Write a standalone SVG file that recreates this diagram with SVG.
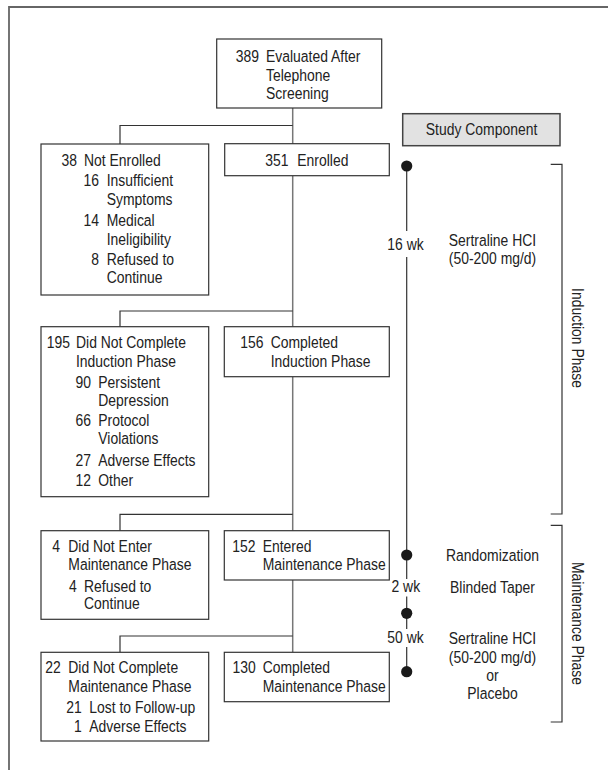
<svg xmlns="http://www.w3.org/2000/svg" width="608" height="770" viewBox="0 0 608 770">
<style>
.t{font-family:"Liberation Sans",Arial,sans-serif;font-size:17px;fill:#222;transform-box:fill-box;transform-origin:0% 0%;transform:scaleX(0.82)}
.e{text-anchor:end;transform-origin:100% 0%}
.m{text-anchor:middle;transform-origin:50% 0%}
.box{fill:#fff;stroke:#333;stroke-width:1.2}
.comp{fill:#e2e2e2;stroke:#444;stroke-width:1.5}
.ln{fill:none;stroke:#333;stroke-width:1.2}
.trunk{fill:none;stroke:#777;stroke-width:1.5}
.dot{fill:#1a1a1a}
</style>
<rect width="608" height="770" fill="#fff"/>
<path d="M9,770 V7 H608" fill="none" stroke="#666" stroke-width="1.8"/>

<g id="connectors">
  <path class="trunk" d="M292.7,108 V144 M292.7,176 V326.7 M292.7,376.7 V530.7 M292.7,580 V652.3"/>
  <path class="ln" d="M292.7,125.5 H120 V144 M292.7,311 H120 V326.7 M292.7,514.3 H120 V530.7 M292.7,636 H120 V652.3"/>
</g>

<g id="n389">
  <rect class="box" x="216.7" y="39" width="165" height="69"/>
  <text class="t e" x="259" y="62">389</text>
  <text class="t" x="266" y="62">Evaluated After</text>
  <text class="t" x="266" y="81">Telephone</text>
  <text class="t" x="266" y="99.5">Screening</text>
</g>

<g id="n38">
  <rect class="box" x="41" y="144" width="167.7" height="151"/>
  <text class="t e" x="77" y="165.7">38</text>
  <text class="t" x="84" y="165.7">Not Enrolled</text>
  <text class="t e" x="99" y="186.5">16</text>
  <text class="t" x="106.7" y="186.5">Insufficient</text>
  <text class="t" x="106.7" y="205.5">Symptoms</text>
  <text class="t e" x="99" y="226">14</text>
  <text class="t" x="106.7" y="226">Medical</text>
  <text class="t" x="106.7" y="245">Ineligibility</text>
  <text class="t e" x="99" y="265">8</text>
  <text class="t" x="106.7" y="265">Refused to</text>
  <text class="t" x="106.7" y="283.5">Continue</text>
</g>

<g id="n351">
  <rect class="box" x="224.7" y="143.7" width="164.6" height="32"/>
  <text class="t e" x="288.5" y="165.7">351</text>
  <text class="t" x="297.3" y="165.7">Enrolled</text>
</g>

<g id="n195">
  <rect class="box" x="41" y="326.7" width="167.7" height="170"/>
  <text class="t e" x="70" y="348.3">195</text>
  <text class="t" x="76" y="348.3">Did Not Complete</text>
  <text class="t" x="76" y="366.7">Induction Phase</text>
  <text class="t e" x="91" y="387.7">90</text>
  <text class="t" x="98.3" y="387.7">Persistent</text>
  <text class="t" x="98.3" y="406">Depression</text>
  <text class="t e" x="91" y="426">66</text>
  <text class="t" x="98.3" y="426">Protocol</text>
  <text class="t" x="98.3" y="444.3">Violations</text>
  <text class="t e" x="91" y="465.7">27</text>
  <text class="t" x="98.3" y="465.7">Adverse Effects</text>
  <text class="t e" x="91" y="486">12</text>
  <text class="t" x="98.3" y="486">Other</text>
</g>

<g id="n156">
  <rect class="box" x="224.3" y="326.7" width="165" height="50"/>
  <text class="t e" x="263.5" y="348.3">156</text>
  <text class="t" x="270.7" y="348.3">Completed</text>
  <text class="t" x="270.7" y="366.7">Induction Phase</text>
</g>

<g id="n4">
  <rect class="box" x="41" y="530.7" width="167.7" height="88.6"/>
  <text class="t e" x="60" y="552.3">4</text>
  <text class="t" x="68.3" y="552.3">Did Not Enter</text>
  <text class="t" x="68.3" y="570">Maintenance Phase</text>
  <text class="t e" x="76.7" y="591.7">4</text>
  <text class="t" x="84" y="591.7">Refused to</text>
  <text class="t" x="84" y="609.3">Continue</text>
</g>

<g id="n152">
  <rect class="box" x="224.3" y="530.7" width="165" height="49.3"/>
  <text class="t e" x="255.6" y="552.3">152</text>
  <text class="t" x="262.7" y="552.3">Entered</text>
  <text class="t" x="262.7" y="570">Maintenance Phase</text>
</g>

<g id="n22">
  <rect class="box" x="41" y="652.3" width="167.7" height="88.7"/>
  <text class="t e" x="60.7" y="673.3">22</text>
  <text class="t" x="68.3" y="673.3">Did Not Complete</text>
  <text class="t" x="68.3" y="691.7">Maintenance Phase</text>
  <text class="t e" x="81.7" y="713.3">21</text>
  <text class="t" x="89.3" y="713.3">Lost to Follow-up</text>
  <text class="t e" x="81.7" y="731.7">1</text>
  <text class="t" x="89.3" y="731.7">Adverse Effects</text>
</g>

<g id="n130">
  <rect class="box" x="224.3" y="652.3" width="165" height="49.4"/>
  <text class="t e" x="255.6" y="673.3">130</text>
  <text class="t" x="262.7" y="673.3">Completed</text>
  <text class="t" x="262.7" y="691.7">Maintenance Phase</text>
</g>

<g id="study-component">
  <rect class="comp" x="402.7" y="113.7" width="157.3" height="32"/>
  <text class="t m" x="481.5" y="135">Study Component</text>
</g>

<g id="timeline">
  <path class="ln" d="M406.7,166 V231 M406.7,257 V579 M406.7,596.5 V629 M406.7,647 V671.7"/>
  <circle class="dot" cx="406.7" cy="166" r="5.6"/>
  <circle class="dot" cx="406.7" cy="555" r="5.6"/>
  <circle class="dot" cx="406.7" cy="613.3" r="5.6"/>
  <circle class="dot" cx="406.7" cy="671.7" r="5.6"/>
  <text class="t m" x="405.5" y="250">16 wk</text>
  <text class="t m" x="405.8" y="591.7">2 wk</text>
  <text class="t m" x="405.5" y="642.7">50 wk</text>
</g>

<g id="induction-labels">
  <text class="t m" x="492.5" y="245.7">Sertraline HCI</text>
  <text class="t m" x="492.5" y="264.3">(50-200 mg/d)</text>
</g>

<g id="maintenance-labels">
  <text class="t m" x="492.5" y="560.7">Randomization</text>
  <text class="t m" x="492.5" y="592.7">Blinded Taper</text>
  <text class="t m" x="492.5" y="644">Sertraline HCI</text>
  <text class="t m" x="492.5" y="662.7">(50-200 mg/d)</text>
  <text class="t m" x="492.5" y="681">or</text>
  <text class="t m" x="492.5" y="699">Placebo</text>
</g>

<g id="induction-phase">
  <path class="ln" d="M550.7,164.3 H562 V514 H550.7"/>
  <g transform="translate(572,338) rotate(90)"><text class="t m" x="0" y="0">Induction Phase</text></g>
</g>

<g id="maintenance-phase">
  <path class="ln" d="M550.7,525.3 H562 V722 H550.7"/>
  <g transform="translate(572,623.5) rotate(90)"><text class="t m" x="0" y="0">Maintenance Phase</text></g>
</g>
</svg>
